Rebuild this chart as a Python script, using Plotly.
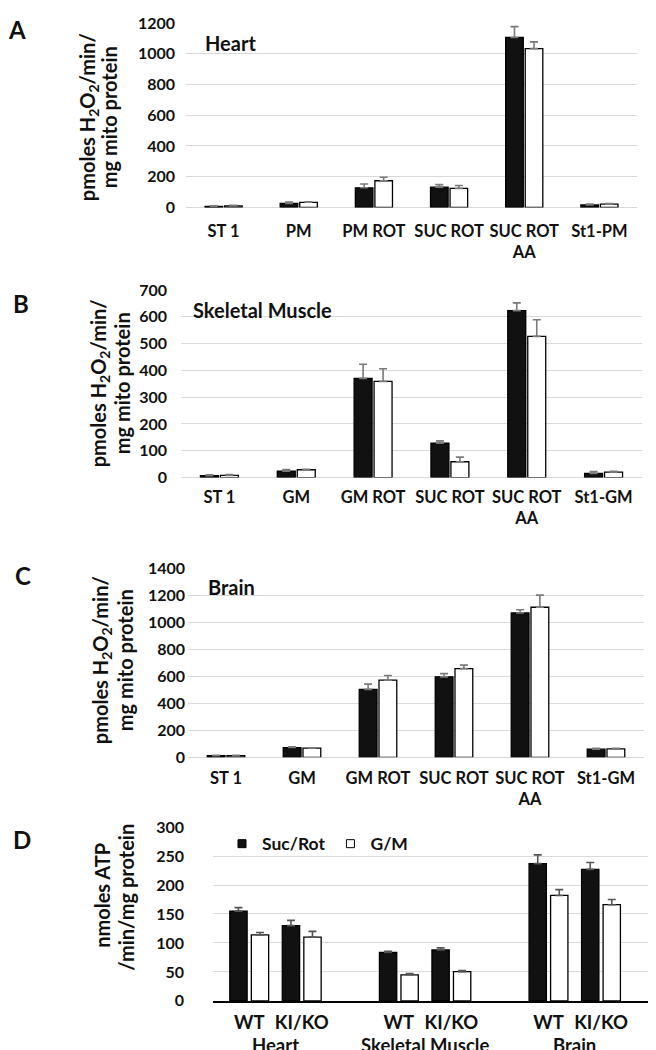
import plotly.graph_objects as go

# ---------------- data ----------------
cats_heart = ["ST 1", "PM", "PM ROT", "SUC ROT", "SUC ROT<br>AA", "St1-PM"]
cats_other = ["ST 1", "GM", "GM ROT", "SUC ROT", "SUC ROT<br>AA", "St1-GM"]

heart_black = [8, 27, 128, 132, 1105, 17]
heart_black_err = [3, 9, 25, 17, 71, 6]
heart_white = [11, 34, 174, 124, 1033, 22]
heart_white_err = [3, 3, 23, 19, 44, 3]

muscle_black = [7, 24, 370, 128, 623, 15]
muscle_black_err = [3, 6, 53, 9, 29, 7]
muscle_white = [8, 29, 359, 59, 527, 20]
muscle_white_err = [3, 2, 47, 17, 62, 3]

brain_black = [12, 73, 505, 598, 1072, 61]
brain_black_err = [4, 5, 39, 24, 24, 7]
brain_white = [12, 68, 574, 659, 1115, 63]
brain_white_err = [3, 3, 34, 26, 90, 4]

tissues = ["Heart", "Skeletal Muscle", "Brain"]
genotypes = ["WT", "KI/KO"]
atp_sucrot = [155, 130, 83.5, 88, 237, 227]
atp_sucrot_err = [6, 9, 2, 3.5, 15, 12]
atp_gm = [114, 110, 45, 50.5, 182, 166]
atp_gm_err = [4, 10, 2, 2, 10, 9]
series_names = ["Suc/Rot", "G/M"]

# ---------------- layout helpers ----------------
W, H = 656, 1050
FONT = "Lato"
TXT = "#111111"
GRID = "#d9d9d9"
BLACK_FILL = "#111111"


def px_x(p):
    return p / W


def px_y(p):
    return 1 - p / H


fig = go.Figure()


def add_pair(ax, cats, b, be, w, we):
    xa = "x" if ax == 1 else f"x{ax}"
    ya = "y" if ax == 1 else f"y{ax}"
    for vals, errs, fill in [(b, be, BLACK_FILL), (w, we, "#ffffff")]:
        fig.add_trace(go.Bar(
            x=cats, y=vals, xaxis=xa, yaxis=ya, showlegend=False,
            marker=dict(color=fill, line=dict(color="#000000", width=1.3)),
            error_y=dict(type="data", symmetric=False, array=errs,
                         arrayminus=[0] * len(errs),
                         color="#7a7a7a", thickness=1.6, width=4)))


add_pair(1, cats_heart, heart_black, heart_black_err, heart_white, heart_white_err)
add_pair(2, cats_other, muscle_black, muscle_black_err, muscle_white, muscle_white_err)
add_pair(3, cats_other, brain_black, brain_black_err, brain_white, brain_white_err)

# Panel D: grouped positions computed from tissue / genotype indices
STEP = 2.85
xpos = [ti * STEP + gi for ti in range(len(tissues)) for gi in range(len(genotypes))]
ticktext = [g for _ in tissues for g in genotypes]

for vals, errs, fill, off in [(atp_sucrot, atp_sucrot_err, BLACK_FILL, -0.37),
                              (atp_gm, atp_gm_err, "#ffffff", 0.04)]:
    fig.add_trace(go.Bar(
        x=xpos, y=vals, xaxis="x4", yaxis="y4", showlegend=False,
        width=0.33, offset=off,
        marker=dict(color=fill, line=dict(color="#000000", width=1.3)),
        error_y=dict(type="data", symmetric=False, array=errs,
                     arrayminus=[0] * len(errs), color="#555555", thickness=1.6, width=4)))

# legend entries (small square keys like the original)
for name, fill in zip(series_names, [BLACK_FILL, "#ffffff"]):
    fig.add_trace(go.Scatter(
        x=[None], y=[None], xaxis="x4", yaxis="y4", mode="markers", name=name,
        marker=dict(symbol="square", size=8, color=fill, line=dict(color="#000000", width=1))))

# panel pixel geometry: (left, right, top, bottom)
geo = {
    1: (178, 629, 5, 193),
    2: (173, 634, 277, 468),
    3: (180, 636, 561, 753),
    4: (205, 656, 824, 1001),
}
yranges = {1: [0, 1200], 2: [0, 700], 3: [0, 1400], 4: [0, 300]}
ydticks = {1: 200, 2: 100, 3: 200, 4: 50}
ystand = {1: 10, 2: 13, 3: 2, 4: 28}
xstand = {1: 12, 2: 8, 3: 9, 4: 4}

lay = {}
for i in range(1, 5):
    l, r, t, b = geo[i]
    xk = "xaxis" if i == 1 else f"xaxis{i}"
    yk = "yaxis" if i == 1 else f"yaxis{i}"
    ya = "y" if i == 1 else f"y{i}"
    xa = "x" if i == 1 else f"x{i}"
    xd = dict(domain=[px_x(l), px_x(r)], anchor=ya, showgrid=False, zeroline=False,
              ticks="", ticklabelstandoff=xstand[i],
              tickfont=dict(family=FONT, size=16.5 if i < 4 else 18.5, color=TXT, weight="bold"),
              fixedrange=True)
    if i == 4:
        xd.update(type="linear", range=[-0.69, 7.9], tickmode="array", tickvals=xpos,
                  ticktext=ticktext, showline=True, linecolor="#000000", linewidth=2)
    else:
        xd.update(type="category", showline=False)
    yd = dict(domain=[px_y(b), px_y(t)], anchor=xa, range=yranges[i], dtick=ydticks[i],
              showgrid=True, gridcolor=GRID, gridwidth=1.2,
              zeroline=(i < 4), zerolinecolor=GRID, zerolinewidth=1.2,
              showline=False, ticks="", ticklabelstandoff=ystand[i],
              tickfont=dict(family=FONT, size=16, color=TXT, weight="bold"), fixedrange=True)
    lay[xk] = xd
    lay[yk] = yd

fig.update_layout(
    width=W, height=H, margin=dict(l=0, r=0, t=0, b=0),
    paper_bgcolor="white", plot_bgcolor="white",
    barmode="group", bargap=0.48, bargroupgap=0.1,
    font=dict(family=FONT, color=TXT),
    legend=dict(orientation="h", x=px_x(214), y=px_y(841), xanchor="left", yanchor="middle",
                font=dict(family=FONT, size=17.5, color=TXT, weight="bold"),
                bgcolor="rgba(0,0,0,0)", itemwidth=30, tracegroupgap=0),
    **lay,
)

ann = []
# panel letters
for letter, (x, y) in {"A": (9, 12), "B": (13, 291), "C": (15, 568), "D": (14, 837)}.items():
    ann.append(dict(text=letter, x=px_x(x), y=px_y(y), xref="paper", yref="paper",
                    xanchor="center", yanchor="middle", showarrow=False,
                    font=dict(family=FONT, size=24, color=TXT, weight="bold")))
# tissue titles inside panels
for label, (x, y) in {"Heart": (195, 25), "Skeletal Muscle": (183, 297), "Brain": (198, 579)}.items():
    ann.append(dict(text=label, x=px_x(x), y=px_y(y), xref="paper", yref="paper",
                    xanchor="left", yanchor="middle", showarrow=False,
                    font=dict(family=FONT, size=20, color=TXT, weight="bold")))
# y-axis titles, one annotation per line for tight line spacing
h2o2_lines = ["pmoles H<sub>2</sub>O<sub>2</sub>/min/", "mg mito protein"]
atp_lines = ["nmoles ATP", "/min/mg protein"]
title_spec = [
    (h2o2_lines, (80, 101), (101, 101)),
    (h2o2_lines, (91, 372), (114, 372)),
    (h2o2_lines, (93, 654), (117, 654)),
    (atp_lines, (94, 893), (118, 896)),
]
for lines, p1, p2 in title_spec:
    for text, (x, y) in zip(lines, [p1, p2]):
        ann.append(dict(text=text, x=px_x(x), y=px_y(y), xref="paper", yref="paper",
                        xanchor="center", yanchor="middle", showarrow=False, textangle=-90,
                        font=dict(family=FONT, size=20, color=TXT, weight="bold")))
# tissue group labels under panel D
for ti, t in enumerate(tissues):
    ann.append(dict(text=t, x=ti * STEP + 0.5, y=px_y(1046), xref="x4", yref="paper",
                    xanchor="center", yanchor="middle", showarrow=False,
                    font=dict(family=FONT, size=18.5, color=TXT, weight="bold")))

fig.update_layout(annotations=ann)
fig.write_html("out.html")
